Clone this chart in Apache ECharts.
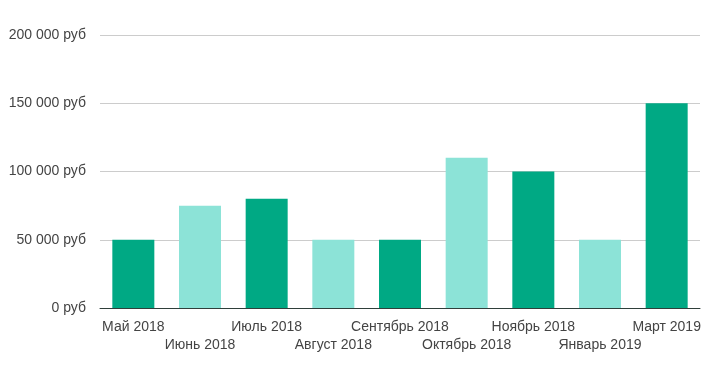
<!DOCTYPE html>
<html><head><meta charset="utf-8">
<script src="https://cdn.jsdelivr.net/npm/echarts@6/dist/echarts.min.js"></script>
<style>html,body{margin:0;padding:0;background:#fff}#c{width:714px;height:370px}</style>
</head><body><div id="c"></div>
<script>
const categories = ['Май 2018','Июнь 2018','Июль 2018','Август 2018','Сентябрь 2018','Октябрь 2018','Ноябрь 2018','Январь 2019','Март 2019'];
const values = [50000,75000,80000,50000,50000,110000,100000,50000,150000];
const barColors = ['#00a984','#8ce3d7'];
const yTicks = [0,50000,100000,150000,200000];

const chart = echarts.init(document.getElementById('c'));
chart.setOption({
  animation:false,
  grid:{left:100,right:14,top:35,bottom:62},
  xAxis:{type:'category',data:categories,
    axisLine:{lineStyle:{color:'#2f3f3a',width:1}},
    axisTick:{show:false},
    axisLabel:{interval:0,color:'#444',fontFamily:'Arial, Liberation Sans',fontSize:14,margin:10,lineHeight:18,
      formatter:(v,i)=> i%2 ? '\n'+v : v}},
  yAxis:{type:'value',min:yTicks[0],max:yTicks[yTicks.length-1],interval:50000,
    axisLine:{show:false},axisTick:{show:false},
    splitLine:{lineStyle:{color:'#ccc'}},
    axisLabel:{color:'#444',fontFamily:'Arial, Liberation Sans',fontSize:14,margin:14,
      formatter:v=>(v===0?'0':String(v).replace(/\B(?=(\d{3})+(?!\d))/g,' '))+' руб'}},
  series:[{type:'bar',data:values,barCategoryGap:'37%',
    itemStyle:{color:p=>barColors[p.dataIndex%2]}}]
});
</script></body></html>
